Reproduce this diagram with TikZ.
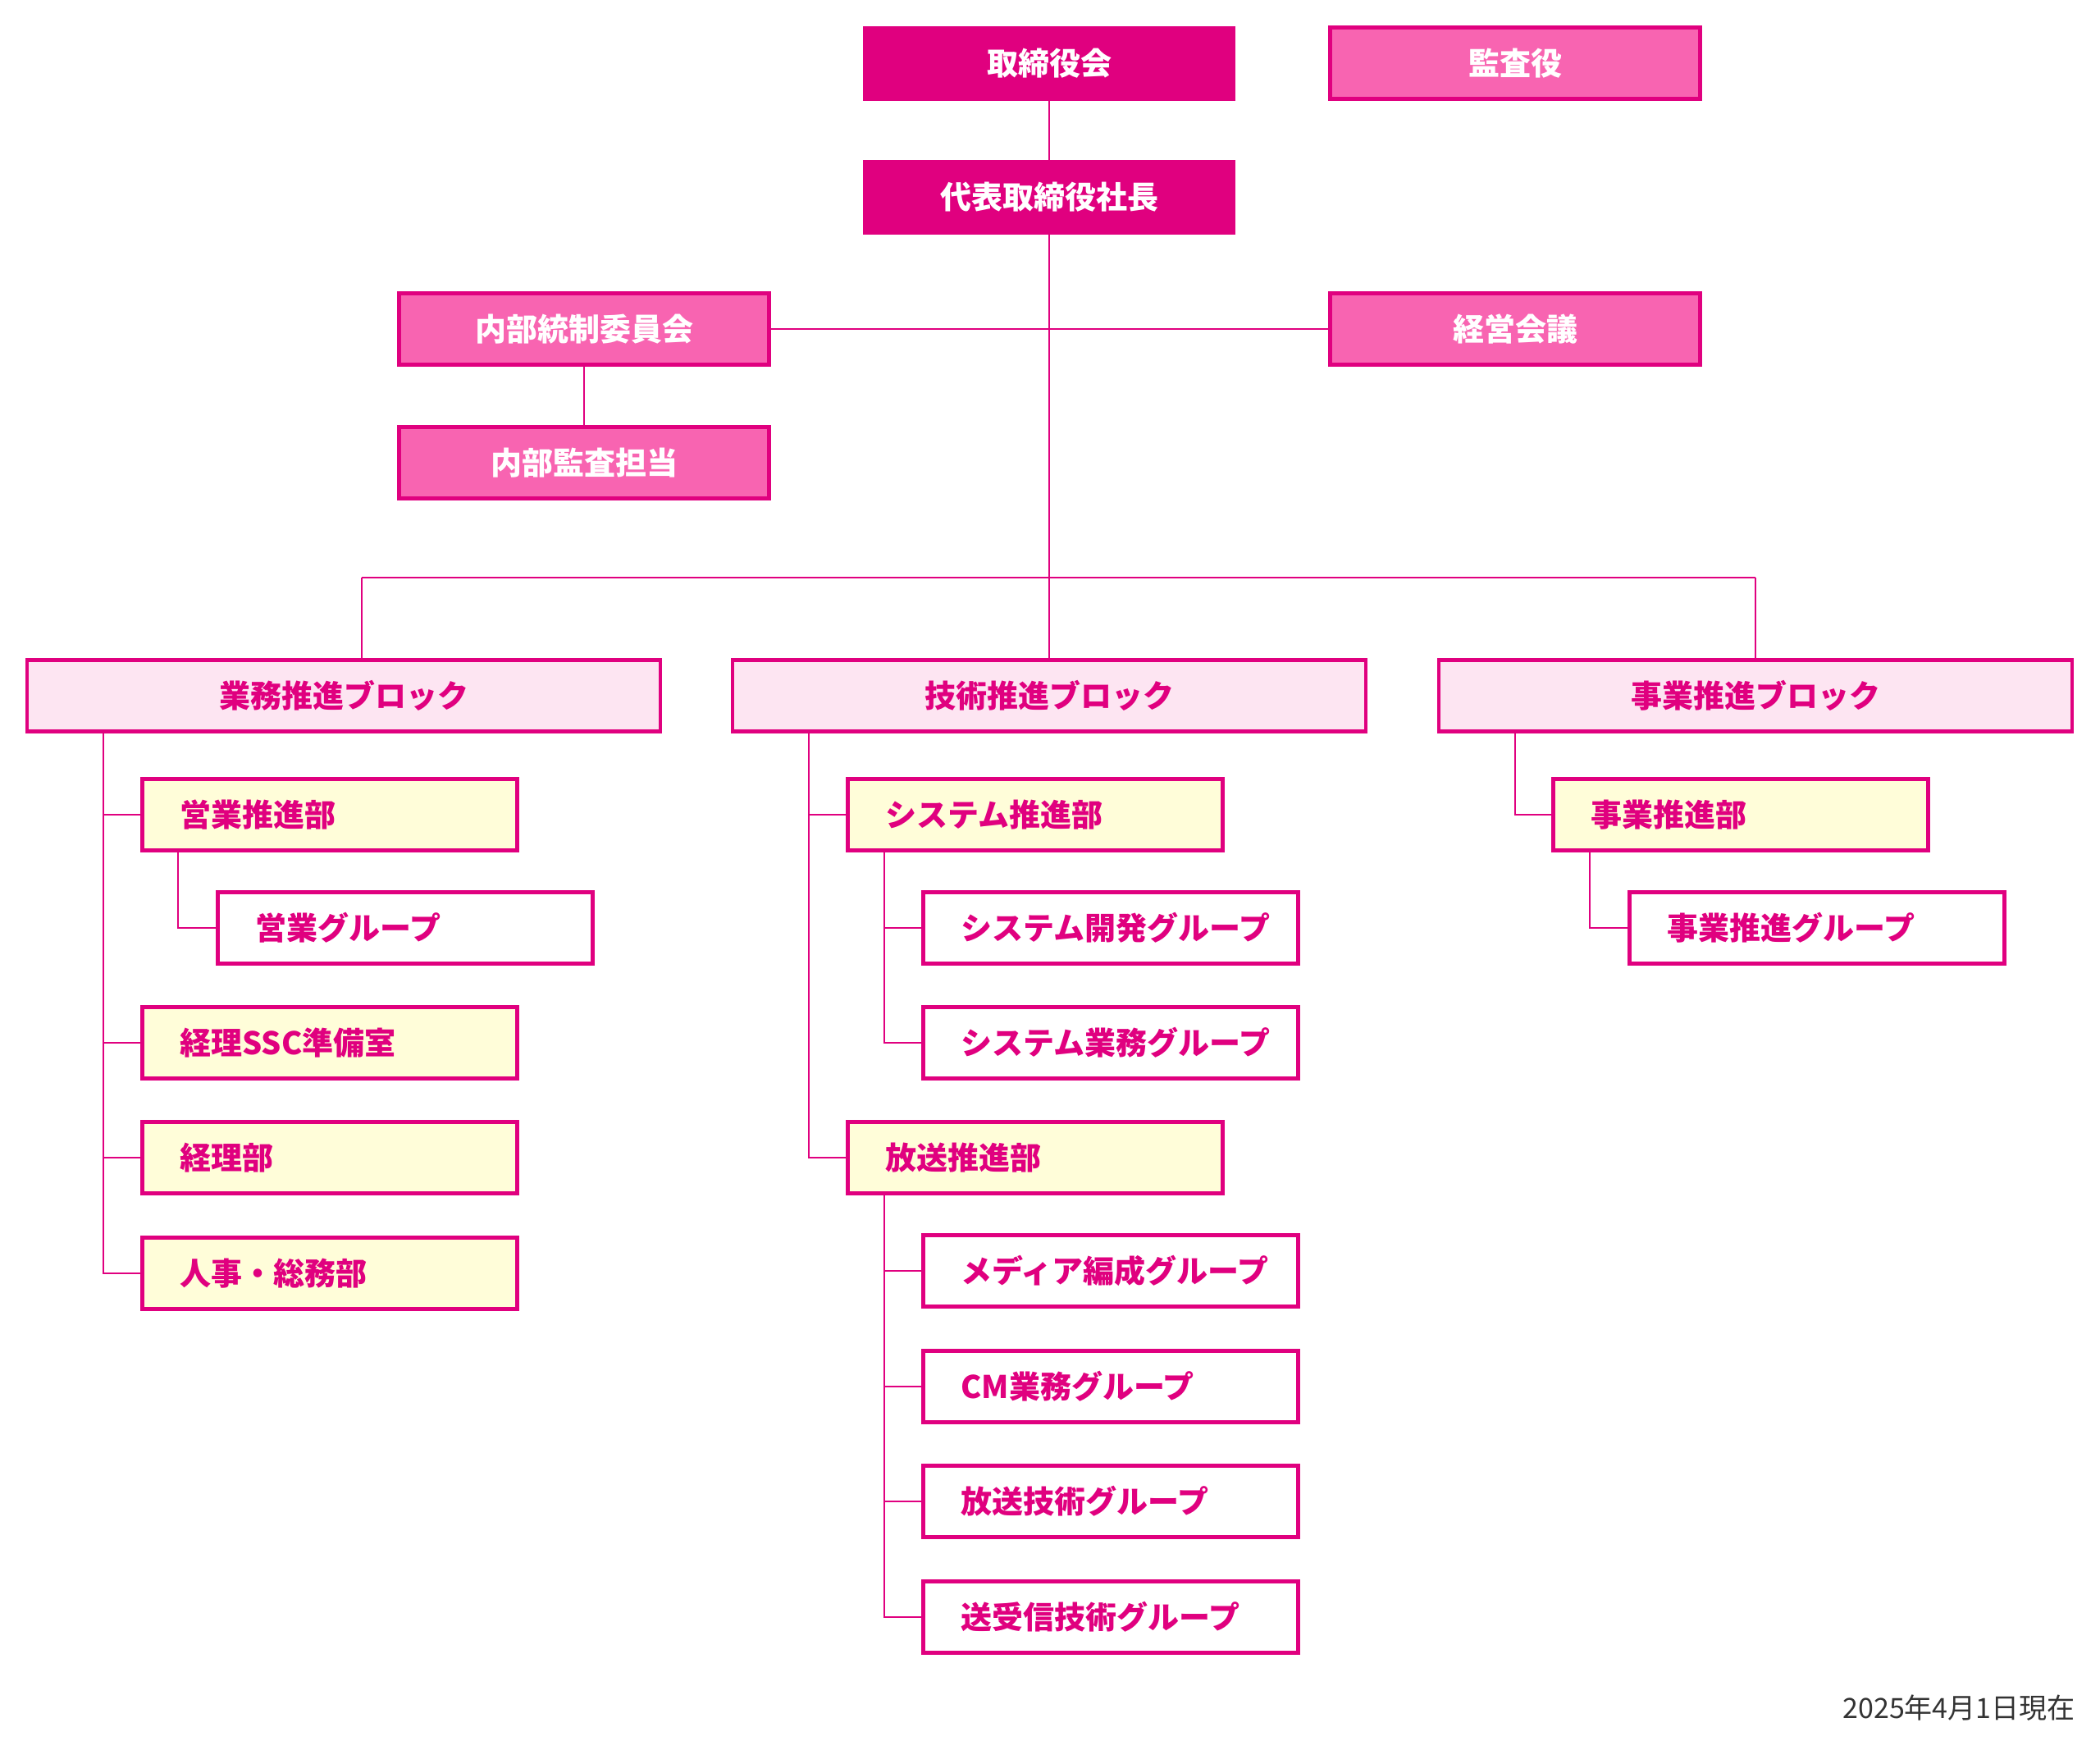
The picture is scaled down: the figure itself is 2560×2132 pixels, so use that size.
\documentclass[tikz,border=0pt]{standalone}
\usepackage{fontspec}
\setmainfont{Noto Sans CJK JP}
\definecolor{mag}{HTML}{E0007F}
\definecolor{pinkf}{HTML}{F864B1}
\definecolor{lpink}{HTML}{FDE5F2}
\definecolor{yel}{HTML}{FFFDD9}
\definecolor{foot}{HTML}{333333}
\tikzset{
  topdark/.style={draw=mag, fill=mag, line width=1pt, minimum width=226pt, minimum height=44.5pt, inner sep=0pt, text=white, font=\fontsize{19}{19}\selectfont\bfseries},
  toppink/.style={draw=mag, fill=pinkf, line width=2.25pt, minimum width=225.5pt, minimum height=43.5pt, inner sep=0pt, text=white, font=\fontsize{19}{19}\selectfont\bfseries},
  blockbox/.style={draw=mag, fill=lpink, line width=2.25pt, minimum width=386pt, minimum height=43.5pt, inner sep=0pt, text=mag, font=\fontsize{19}{19}\selectfont\bfseries},
  deptbox/.style={draw=mag, fill=yel, line width=2.25pt, minimum width=228.5pt, minimum height=43.5pt, text width=182.5pt, inner xsep=23pt, inner ysep=0pt, align=left, text=mag, font=\fontsize{19}{19}\selectfont\bfseries},
  grpbox/.style={deptbox, fill=white},
  conn/.style={draw=mag, line width=1pt}
}
\begin{document}
\begin{tikzpicture}[x=0.5pt,y=-0.5pt]
\useasboundingbox (0,0) rectangle (2560,2132);
% top
\node[topdark] (tori) at (1279,77) {取締役会};
\node[toppink] (kansayaku) at (1847,77) {監査役};
\node[topdark] (daihyo) at (1279,240) {代表取締役社長};
\node[toppink] (naibu) at (712,401) {内部統制委員会};
\node[toppink] (keiei) at (1847,401) {経営会議};
\node[toppink] (kansa) at (712,564) {内部監査担当};
% blocks
\node[blockbox] (gyomu) at (419,848) {業務推進ブロック};
\node[blockbox] (gijutsu) at (1279,848) {技術推進ブロック};
\node[blockbox] (jigyo) at (2140,848) {事業推進ブロック};
% gyomu
\node[deptbox] (eigyo) at (402,993) {営業推進部};
\node[grpbox] (eigyog) at (494,1131) {営業グループ};
\node[deptbox] (ssc) at (402,1271) {経理SSC準備室};
\node[deptbox] (keiri) at (402,1411) {経理部};
\node[deptbox] (jinji) at (402,1552) {人事・総務部};
% gijutsu
\node[deptbox] (sys) at (1262,993) {システム推進部};
\node[grpbox] (sysdev) at (1354,1131) {システム開発グループ};
\node[grpbox] (sysgyo) at (1354,1271) {システム業務グループ};
\node[deptbox] (hoso) at (1262,1411) {放送推進部};
\node[grpbox] (media) at (1354,1549) {メディア編成グループ};
\node[grpbox] (cm) at (1354,1690) {CM業務グループ};
\node[grpbox] (hgi) at (1354,1830) {放送技術グループ};
\node[grpbox] (soju) at (1354,1971) {送受信技術グループ};
% jigyo
\node[deptbox] (jb) at (2122,993) {事業推進部};
\node[grpbox] (jbg) at (2215,1131) {事業推進グループ};
% footer
\node[anchor=east, inner sep=0pt, text=foot, font=\fontsize{17}{17}\selectfont] (date) at (2530,2082) {2025年4月1日現在};
% connectors top
\draw[conn] (tori.south) -- (daihyo.north);
\draw[conn] (daihyo.south) -- (gijutsu.north);
\draw[conn] (naibu.east) -- (keiei.west);
\draw[conn] (naibu.south) -- (kansa.north);
\coordinate (bl) at (441,704);
\coordinate (br) at (2140,704);
\draw[conn] (bl) -- (br);
\draw[conn] (bl) -- (bl |- gyomu.north);
\draw[conn] (br) -- (br |- jigyo.north);
% gyomu tree
\coordinate (gt) at (126,0);
\coordinate (gs) at (217,0);
\draw[conn] (gt |- gyomu.south) -- (gt |- jinji.west) -- (jinji.west);
\draw[conn] (gt |- eigyo.west) -- (eigyo.west);
\draw[conn] (gt |- ssc.west) -- (ssc.west);
\draw[conn] (gt |- keiri.west) -- (keiri.west);
\draw[conn] (gs |- eigyo.south) -- (gs |- eigyog.west) -- (eigyog.west);
% gijutsu tree
\coordinate (tt) at (986,0);
\coordinate (ts) at (1078,0);
\draw[conn] (tt |- gijutsu.south) -- (tt |- hoso.west) -- (hoso.west);
\draw[conn] (tt |- sys.west) -- (sys.west);
\draw[conn] (ts |- sys.south) -- (ts |- sysgyo.west) -- (sysgyo.west);
\draw[conn] (ts |- sysdev.west) -- (sysdev.west);
\draw[conn] (ts |- hoso.south) -- (ts |- soju.west) -- (soju.west);
\draw[conn] (ts |- media.west) -- (media.west);
\draw[conn] (ts |- cm.west) -- (cm.west);
\draw[conn] (ts |- hgi.west) -- (hgi.west);
% jigyo tree
\coordinate (jt) at (1847,0);
\coordinate (js) at (1938,0);
\draw[conn] (jt |- jigyo.south) -- (jt |- jb.west) -- (jb.west);
\draw[conn] (js |- jb.south) -- (js |- jbg.west) -- (jbg.west);
\end{tikzpicture}
\end{document}
